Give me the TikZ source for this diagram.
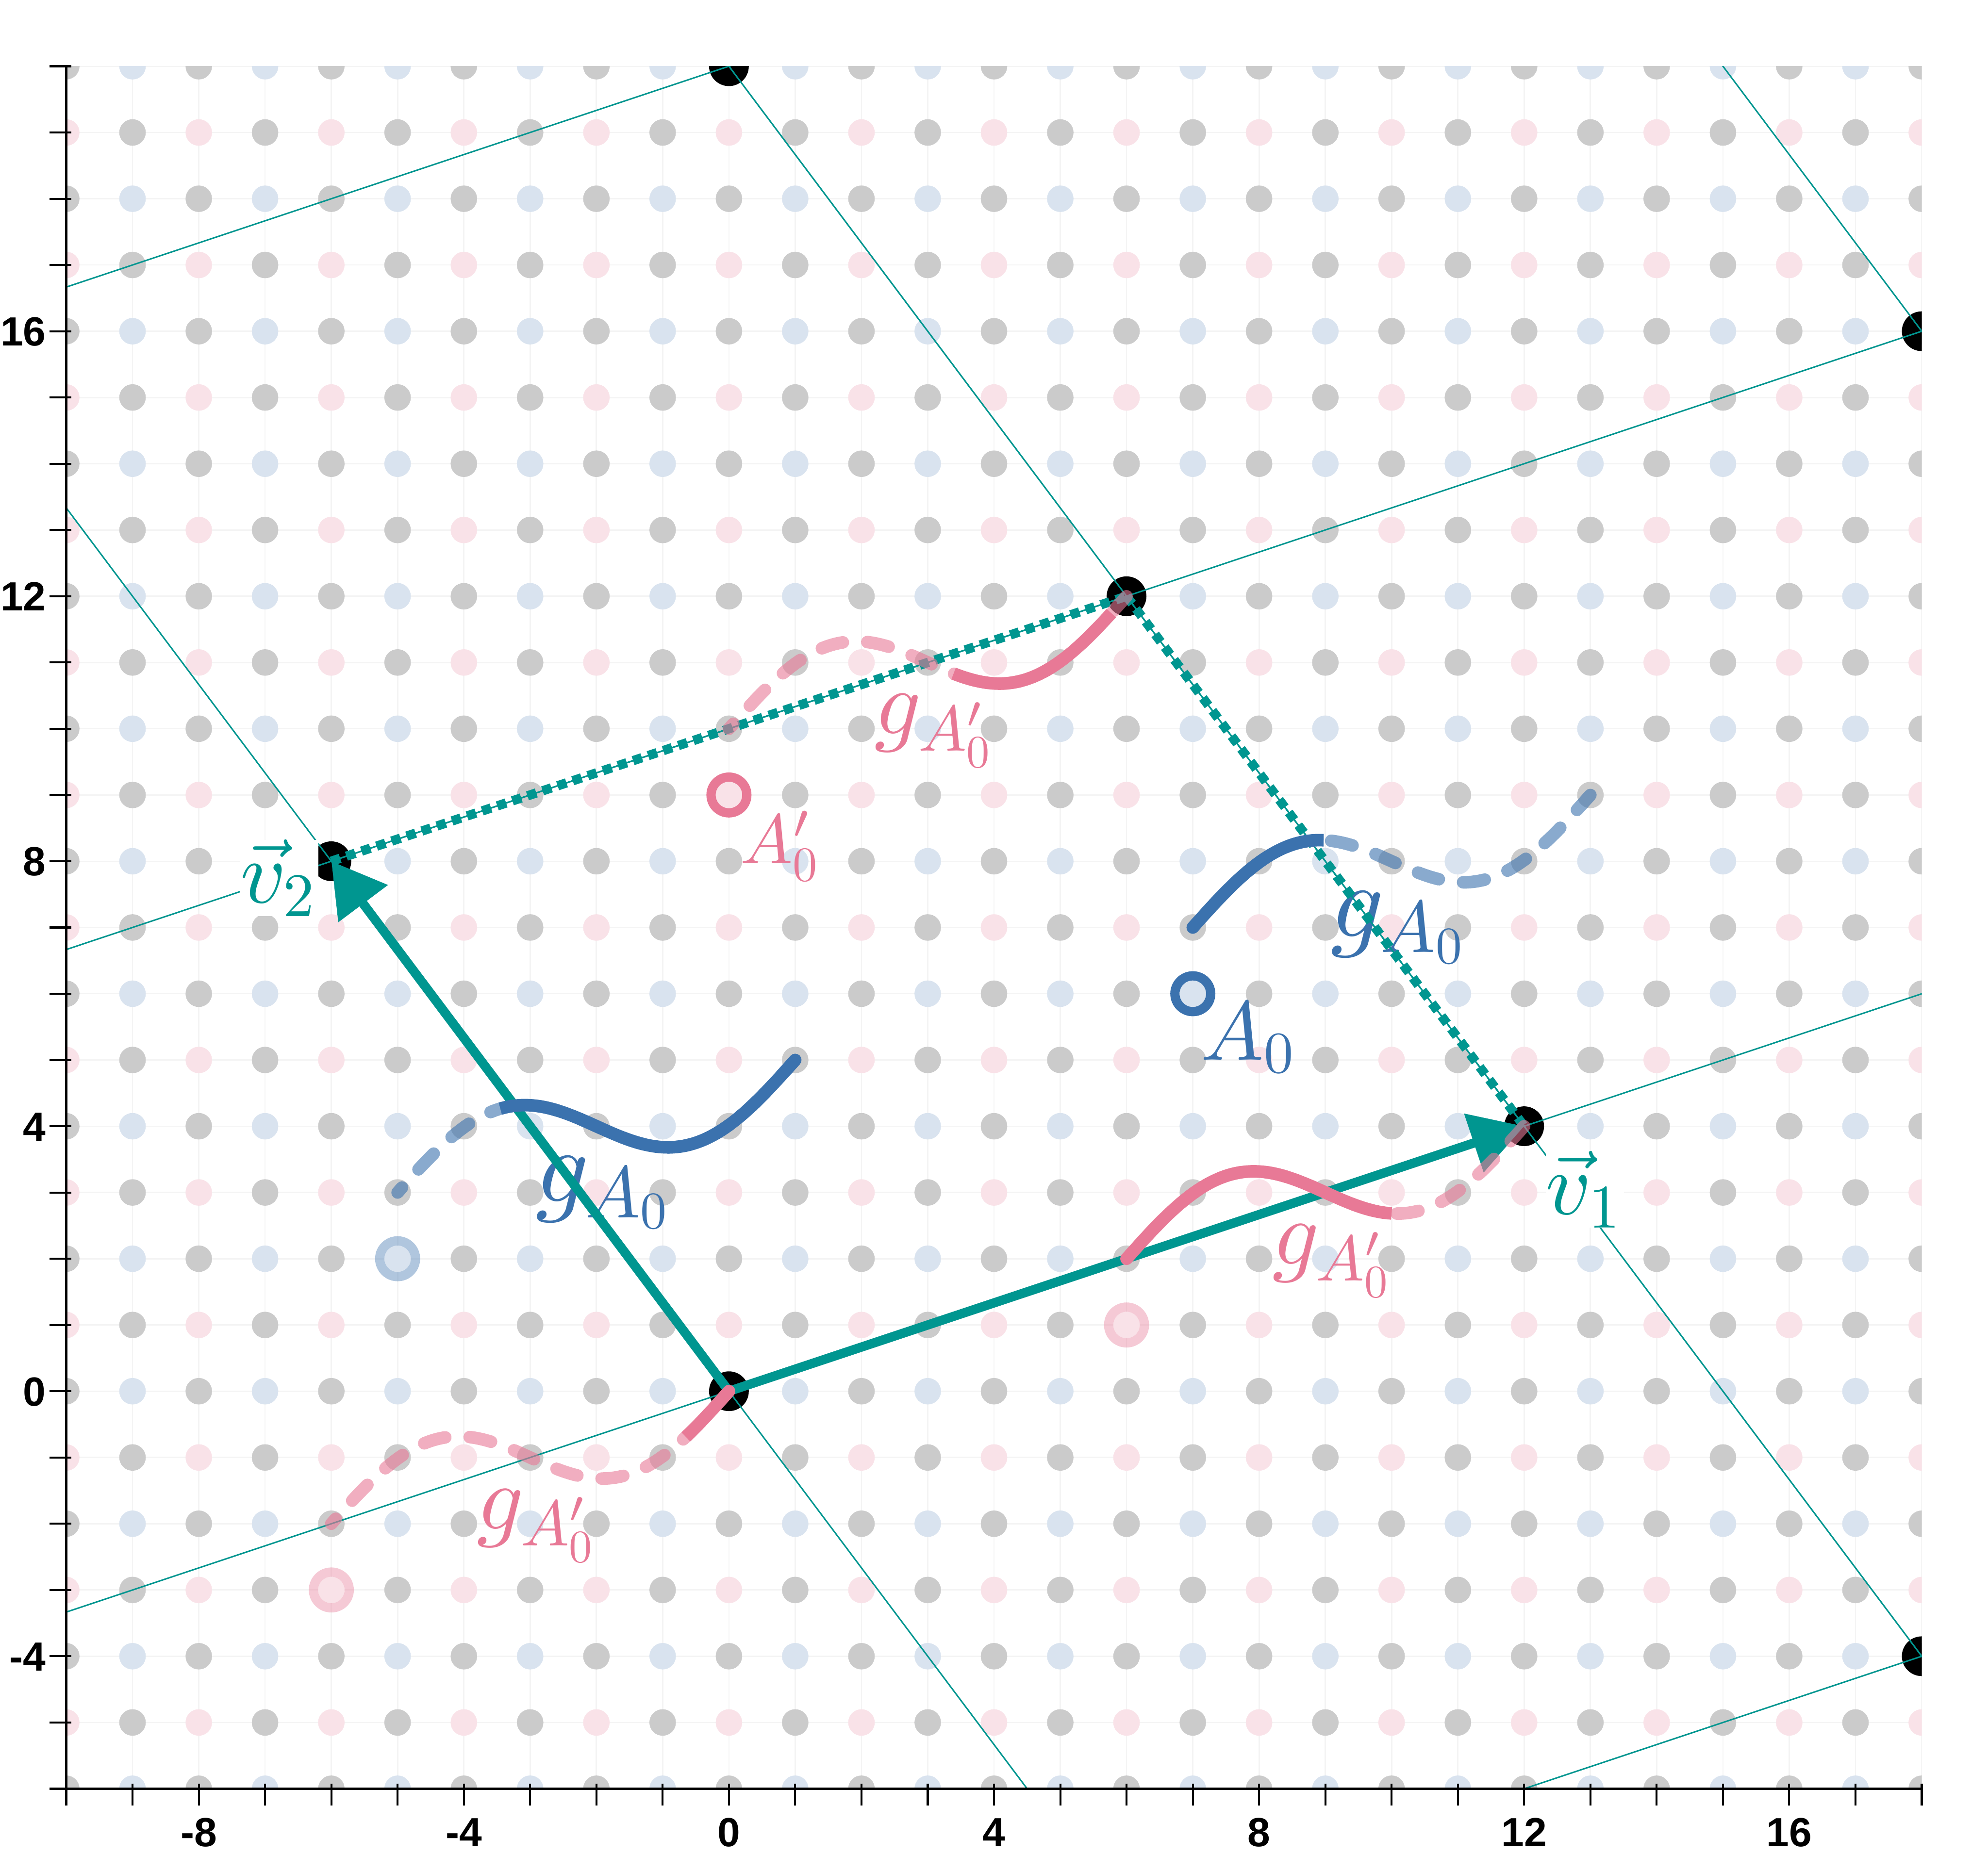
\documentclass[tikz,border=0pt]{standalone}
\usepackage{fontspec}
\newfontfamily\tickfont{Liberation Sans}
\usetikzlibrary{arrows.meta}
\definecolor{lteal}{HTML}{009690}
\definecolor{lblue}{HTML}{3B72AE}
\definecolor{lpink}{HTML}{E87996}
\definecolor{dotgrey}{HTML}{CBCBCB}
\definecolor{dotblue}{HTML}{D9E3EF}
\definecolor{dotpink}{HTML}{F9E2E8}
\definecolor{gridc}{HTML}{F4F4F4}
\newcommand{\gA}{g_{\scalebox{0.7}{$A_{\scalebox{0.714}{$0$}}$}}}
\newcommand{\gAp}{g_{\scalebox{0.7}{$A'_{\scalebox{0.714}{$0$}}$}}}
\tikzset{
  gridline/.style={gridc, line width=0.02cm},
  latline/.style={lteal, line width=0.022cm},
  vecarrow/.style={lteal, line width=0.14cm, -{Triangle[length=0.8cm,width=0.9cm]}},
  sqline/.style={lteal, line width=0.14cm, dash pattern=on 0.14cm off 0.1cm},
  curvesolid/.style={line width=0.19cm, line cap=butt},
  curvedash/.style={line width=0.19cm, line cap=round, dash pattern=on 0.33cm off 0.37cm, dash phase=0.23cm, opacity=0.6},
  ring/.style={line width=0.14cm},
  faintring/.style={line width=0.14cm, opacity=0.4},
  bluelabel/.style={lblue, anchor=base west, inner sep=0pt, scale=4.5},
  pinklabel/.style={lpink, anchor=base west, inner sep=0pt, scale=3.95},
  veclabel/.style={lteal, fill=white, anchor=base west, inner sep=0pt, scale=3.8},
  ticklabel/.style={font=\tickfont\bfseries\fontsize{17.5}{20}\selectfont, inner sep=0pt}
}
\begin{document}
\begin{tikzpicture}[x=1cm,y=1cm]
\useasboundingbox (-11,-7) rectangle (19,21);
\fill[white] (-11,-7) rectangle (19,21);
\begin{scope}
\clip (-10,-6) rectangle (18,20);
% grid
\foreach \i in {-10,...,18} \draw[gridline] (\i,-6) -- (\i,20);
\foreach \j in {-6,...,20} \draw[gridline] (-10,\j) -- (18,\j);
% lattice dots
\foreach \i in {-10,...,18}{
  \foreach \j in {-6,...,20}{
    \pgfmathtruncatemacro\s{\i+\j}
    \ifodd\s
      \ifodd\j \fill[dotpink] (\i,\j) circle (0.2);
      \else \fill[dotblue] (\i,\j) circle (0.2); \fi
    \else \fill[dotgrey] (\i,\j) circle (0.2); \fi
  }}
% lattice points
\coordinate (O) at (0,0);
\coordinate (V1) at (12,4);
\coordinate (V2) at (-6,8);
\coordinate (S) at (6,12);
\coordinate (P1) at (0,20);
\coordinate (P2) at (18,16);
\coordinate (P3) at (18,-4);
\foreach \p in {O,V1,V2,S,P1,P2,P3} \fill[black] (\p) circle (0.3);
% lattice lines
\foreach \c in {-10,0,10,20} \draw[latline] (-12,{-4+\c}) -- (21,{7+\c});
\foreach \d in {0,20,40} \draw[latline] ({(\d+8)*0.75},-8) -- ({(\d-22)*0.75},22);
% rings
\draw[lblue, faintring] (-5,2) circle (0.27);
\draw[lpink, faintring] (6,1) circle (0.27);
\draw[lpink, faintring] (-6,-3) circle (0.27);
\draw[lblue, ring] (7,6) circle (0.27);
\draw[lpink, ring] (0,9) circle (0.27);
% labels
\node[bluelabel] (gb1) at (-2.95,2.86) {$\gA$};
\node[bluelabel] (gb2) at (9.05,6.86) {$\gA$};
\node[pinklabel] (gp1) at (8.17,1.92) {$\gAp$};
\node[pinklabel] (gp2) at (-3.83,-2.08) {$\gAp$};
\node[pinklabel] (gp3) at (2.17,9.92) {$\gAp$};
\node[lblue, anchor=base west, inner sep=0pt, scale=3.6] (la) at (7.1,5.0) {$A_{\scalebox{0.7}{$0$}}$};
\node[lpink, anchor=base west, inner sep=0pt, scale=3.0] (lap) at (0.15,7.965) {$A'_{\scalebox{0.7}{$0$}}$};
\node[veclabel] (lv2) at (-7.4,7.37) {$\vec{v}_{\scalebox{0.7}{$2$}}$};
\node[veclabel] (lv1) at (12.3,2.67) {$\vec{v}_{\scalebox{0.7}{$1$}}$};
% dotted sides
\draw[latline] (V2) -- (S) -- (V1);
\draw[sqline] (V2) -- (S);
\draw[sqline] (S) -- (V1);
% vectors
\draw[vecarrow] (O) -- (V1);
\draw[vecarrow] (O) -- (V2);
% dashed curves (full length)
\draw[lblue, curvedash] plot[domain=0:6, samples=61, smooth, variable=\t] ({-5+\t},{3+\t/3+0.75*sin(60*\t)});
\draw[lblue, curvedash] plot[domain=0:6, samples=61, smooth, variable=\t] ({7+\t},{7+\t/3+0.75*sin(60*\t)});
\draw[lpink, curvedash] plot[domain=0:6, samples=61, smooth, variable=\t] ({6+\t},{2+\t/3+0.75*sin(60*\t)});
\draw[lpink, curvedash] plot[domain=0:6, samples=61, smooth, variable=\t] ({-6+\t},{-2+\t/3+0.75*sin(60*\t)});
\draw[lpink, curvedash] plot[domain=0:6, samples=61, smooth, variable=\t] ({\t},{10+\t/3+0.75*sin(60*\t)});
% solid parts
\draw[lblue, curvesolid] plot[domain=1.55:6, samples=46, smooth, variable=\t] ({-5+\t},{3+\t/3+0.75*sin(60*\t)});
\fill[lblue] (1,5) circle (0.095);
\draw[lblue, curvesolid] plot[domain=0:1.975, samples=21, smooth, variable=\t] ({7+\t},{7+\t/3+0.75*sin(60*\t)});
\fill[lblue] (7,7) circle (0.095);
\draw[lpink, curvesolid] plot[domain=0:4, samples=41, smooth, variable=\t] ({6+\t},{2+\t/3+0.75*sin(60*\t)});
\fill[lpink] (6,2) circle (0.095);
\draw[lpink, curvesolid] plot[domain=5.35:6, samples=8, smooth, variable=\t] ({-6+\t},{-2+\t/3+0.75*sin(60*\t)});
\fill[lpink] (0,0) circle (0.095);
\draw[lpink, curvesolid] plot[domain=3.39:5.77, samples=25, smooth, variable=\t] ({\t},{10+\t/3+0.75*sin(60*\t)});
\end{scope}
% axes
\draw[black, line width=0.035cm] (-10,-6) -- (-10,20);
\draw[black, line width=0.035cm] (-10.25,-6) -- (18,-6);
\foreach \j in {-6,...,20} \draw[black, line width=0.03cm] (-10.25,\j) -- (-9.92,\j);
\foreach \i in {-10,...,18} \draw[black, line width=0.03cm] (\i,-5.92) -- (\i,-6.25);
\foreach \i in {-8,-4,0,4,8,12,16} \node[ticklabel, anchor=base] (xt\i) at (\i,-6.87) {\i};
\foreach \j in {-4,0,4,8,12,16} \node[ticklabel, anchor=base east] (yt\j) at (-10.3,\j-0.22) {\j};
\end{tikzpicture}
\end{document}
